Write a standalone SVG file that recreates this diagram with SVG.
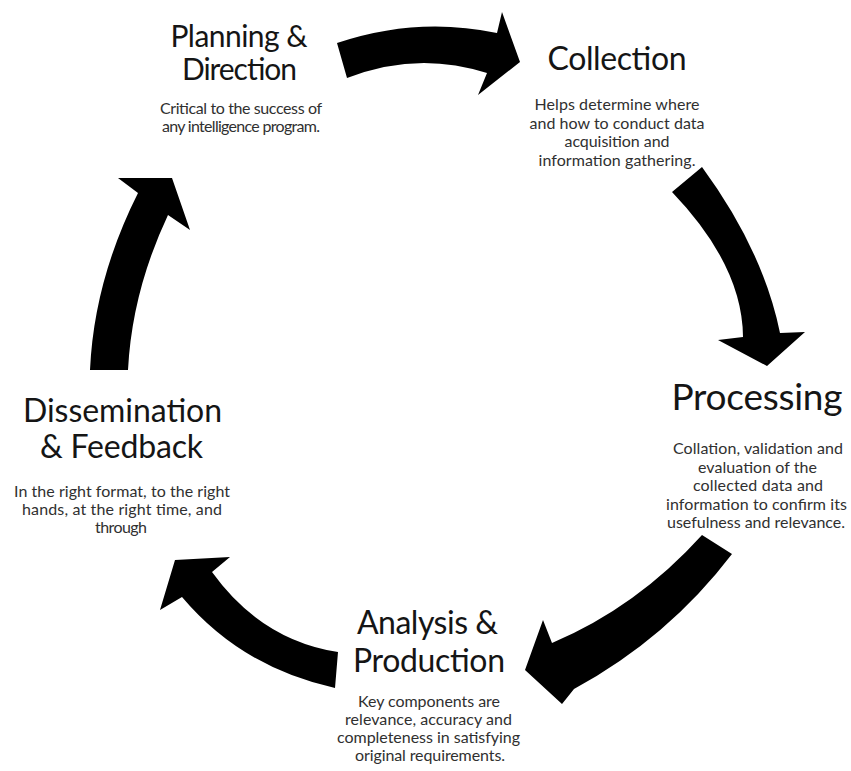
<svg xmlns="http://www.w3.org/2000/svg" width="851" height="771" viewBox="0 0 851 771">
<style>
.t{font-family:Lato,"Open Sans","Liberation Sans",sans-serif;fill:#151515;text-anchor:middle}
.d{font-family:Lato,"Open Sans","Liberation Sans",sans-serif;fill:#303030;text-anchor:middle;font-size:16px}
.arr{fill:#000;stroke:none}
</style>
<rect width="851" height="771" fill="#fff"/>
<g id="connectors">
<path class="arr" d="M337,43 Q417,16 497,33 L502,12 L520,62 L478,95 L487,73 Q417,50.5 347,78 Z"/>
<path class="arr" d="M702,167 Q763,250 780,333 L805,332 L767,366 L718,340 L743,337 Q742.5,265.5 672,192 Z"/>
<path class="arr" d="M702,535 Q637,607 552,643 L543,620 L525,670 L562,704 L574,689 Q668,638 732,554 Z"/>
<path class="arr" d="M338,652 Q261,640 212,572 L230,557 L175,560 L160,610 L182,597 Q241.5,667.5 335,688 Z"/>
<path class="arr" d="M90,370 Q94,280.5 138,193 L118,178 L172,178 L190,230 L168,215 Q132,291.5 128,370 Z"/>
</g>
<g id="planning">
<text class="t" font-size="30" x="239" y="47" textLength="137">Planning &amp;</text>
<text class="t" font-size="30" x="239.5" y="80" textLength="115">Direction</text>
<text class="d" x="241" y="113.5" textLength="162">Critical to the success of</text>
<text class="d" x="241" y="131.5" textLength="158">any intelligence program.</text>
</g>
<g id="collection">
<text class="t" font-size="32" x="617" y="70" textLength="139">Collection</text>
<text class="d" x="617" y="110" textLength="165">Helps determine where</text>
<text class="d" x="617" y="128.5" textLength="175">and how to conduct data</text>
<text class="d" x="617" y="147" textLength="105">acquisition and</text>
<text class="d" x="617" y="165.5" textLength="157">information gathering.</text>
</g>
<g id="processing">
<text class="t" font-size="37" x="757" y="410" textLength="171">Processing</text>
<text class="d" x="758" y="454" textLength="170">Collation, validation and</text>
<text class="d" x="757.5" y="472.5" textLength="119">evaluation of the</text>
<text class="d" x="758" y="491" textLength="130">collected data and</text>
<text class="d" x="756.5" y="509.5" textLength="181">information to confirm its</text>
<text class="d" x="756" y="528" textLength="178">usefulness and relevance.</text>
</g>
<g id="analysis">
<text class="t" font-size="32" x="427.5" y="634" textLength="141">Analysis &amp;</text>
<text class="t" font-size="32" x="429" y="672" textLength="152">Production</text>
<text class="d" x="429" y="706.5" textLength="142">Key components are</text>
<text class="d" x="428.5" y="724.5" textLength="167">relevance, accuracy and</text>
<text class="d" x="428.5" y="742.5" textLength="183">completeness in satisfying</text>
<text class="d" x="430" y="760.5" textLength="150">original requirements.</text>
</g>
<g id="dissemination">
<text class="t" font-size="32" x="122.5" y="422" textLength="199">Dissemination</text>
<text class="t" font-size="32" x="121.5" y="458" textLength="163">&amp; Feedback</text>
<text class="d" x="122" y="497" textLength="216">In the right format, to the right</text>
<text class="d" x="122" y="515" textLength="200">hands, at the right time, and</text>
<text class="d" x="121" y="533" textLength="52">through</text>
</g>
</svg>
